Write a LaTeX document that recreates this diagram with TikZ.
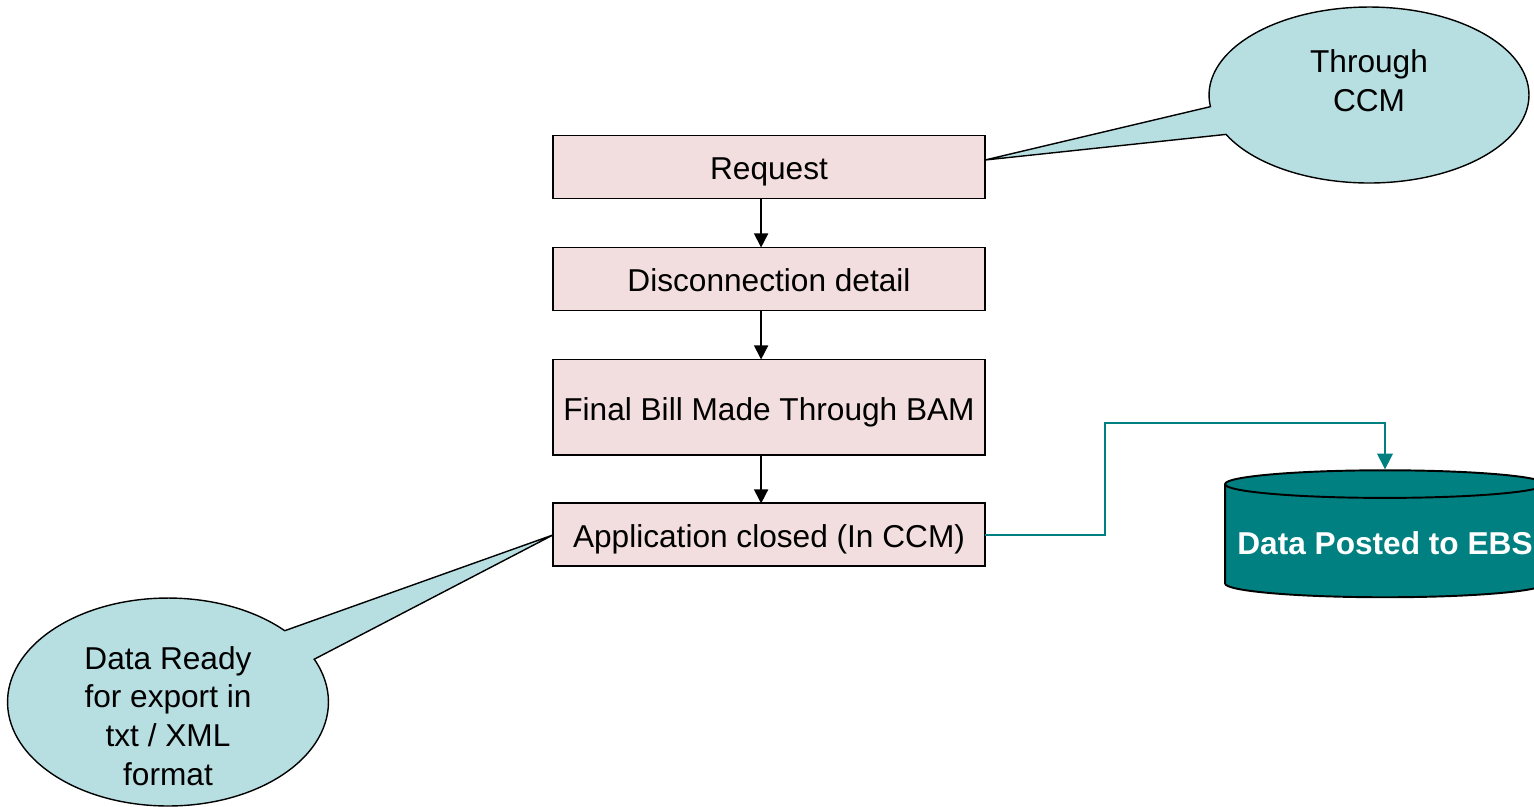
\documentclass[tikz,border=0pt]{standalone}
\usepackage{fontspec}
\setmainfont{Liberation Sans}
\usepackage[HTML]{xcolor}
\usepackage{tikz}
\usetikzlibrary{positioning, arrows.meta, shapes.geometric, shapes.callouts}
\definecolor{boxpink}{HTML}{F2DEDE}
\definecolor{bubble}{HTML}{B7DFE2}
\definecolor{tealdb}{HTML}{008080}

\begin{document}
\begin{tikzpicture}[x=0.02cm, y=-0.02cm,
  stepbox/.style={draw, line width=1.1pt, fill=boxpink, minimum width=8.64cm,
    minimum height=1.26cm, inner sep=0pt, outer sep=0pt, text height=15.9pt, text depth=1.3pt,
    font=\fontsize{18}{21}\selectfont},
  bubblenote/.style={ellipse callout, draw, line width=0.8pt, fill=bubble, inner sep=0pt,
    callout pointer arc=19, align=center, font=\fontsize{18}{22}\selectfont},
  flow/.style={-{Triangle[length=8pt,width=8pt]}, line width=0.9pt},
  link/.style={-{Triangle[length=9pt,width=9pt]}, draw=tealdb, line width=0.9pt}]
\useasboundingbox (0,0) rectangle (1534,806);
% --- main flow ---
\node[stepbox] (req) at (769,167) {Request};
\node[stepbox, below=0.98cm of req] (detail) {Disconnection detail};
\node[stepbox, below=0.98cm of detail, minimum height=1.92cm] (bill) {Final Bill Made Through BAM};
\node[stepbox, below=0.96cm of bill] (app) {Application closed (In CCM)};
\draw[flow] ([xshift=-4.5pt]req.south) -- ([xshift=-4.5pt]detail.north);
\draw[flow] ([xshift=-4.5pt]detail.south) -- ([xshift=-4.5pt]bill.north);
\draw[flow] ([xshift=-4.5pt]bill.south) -- ([xshift=-4.5pt]app.north);
% --- callouts ---
\coordinate (reqtip) at (985,160);
\node[bubblenote, minimum width=6.4cm, minimum height=3.52cm,
  callout absolute pointer={(reqtip)}] (ccm) at (1369,95)
  {Through\\CCM\rule[-0.58cm]{0pt}{0pt}};
\node[bubblenote, minimum width=6.42cm, minimum height=4.16cm, inner ysep=-0.4cm,
  callout absolute pointer={(app.west)}] (export) at (168,702)
  {\rule{0pt}{1.01cm}Data Ready\\for export in\\txt / XML\\format};
% --- database ---
\node[cylinder, shape border rotate=90, aspect=0.09, draw, line width=1.1pt, fill=tealdb,
  minimum width=6.4cm, minimum height=2.54cm, text=white,
  font=\bfseries\fontsize{18}{21}\selectfont] (ebs) at (1385,543) {Data Posted to EBS};
\draw[link] (app.east) -- ++(120,0) |- (ebs.north |- 0,423) -- (ebs.north);
\end{tikzpicture}
\end{document}
